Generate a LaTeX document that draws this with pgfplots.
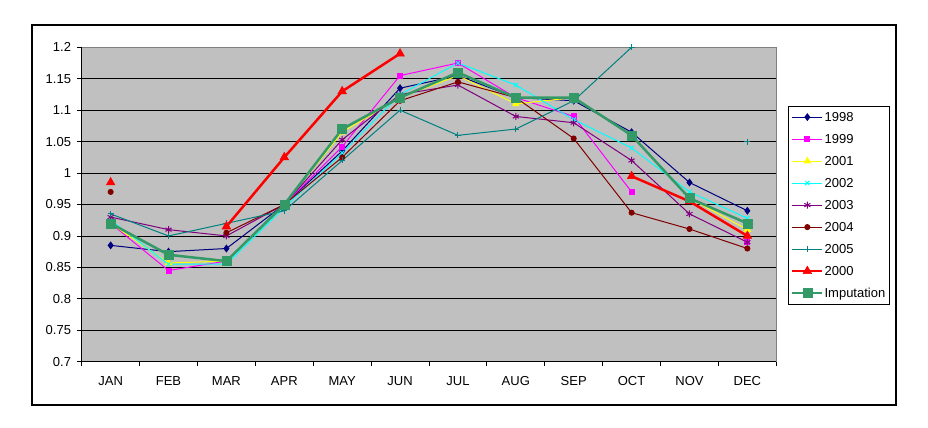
\documentclass[border=0pt]{standalone}
\usepackage{fontspec}
\setmainfont{Liberation Sans}
\usepackage{pgfplots}
\usepackage{pgfplotstable}
\pgfplotsset{compat=1.18}
\definecolor{navy}{RGB}{0,0,128}
\definecolor{magentaX}{RGB}{255,0,255}
\definecolor{yellowX}{RGB}{255,255,0}
\definecolor{cyanX}{RGB}{0,255,255}
\definecolor{purpleX}{RGB}{128,0,128}
\definecolor{darkredX}{RGB}{128,0,0}
\definecolor{tealX}{RGB}{0,128,128}
\definecolor{redX}{RGB}{255,0,0}
\definecolor{seagreen}{RGB}{51,153,102}
\definecolor{silverX}{RGB}{192,192,192}
\definecolor{borderX}{RGB}{128,128,128}

\pgfplotstableread{
x  a98   a99   a01   a02   a03   a04   a05   a00   imp
1  0.885 0.92  0.92  0.925 0.93  0.97  0.935 0.985 0.92
2  0.875 0.845 0.857 0.855 0.91  nan   0.90  nan   0.87
3  0.88  0.86  0.86  0.855 0.90  0.905 0.92  0.915 0.86
4  0.95  0.95  0.95  0.945 0.95  0.95  0.94  1.025 0.95
5  1.035 1.042 1.065 1.032 1.053 1.025 1.02  1.13  1.07
6  1.135 1.155 1.12  1.125 1.125 1.115 1.10  1.19  1.12
7  1.155 1.175 1.155 1.175 1.14  1.145 1.06  nan   1.16
8  1.12  1.12  1.11  1.14  1.09  1.12  1.07  nan   1.12
9  1.115 1.09  1.12  1.085 1.08  1.055 1.115 nan   1.12
10 1.065 0.97  1.06  1.04  1.02  0.937 1.2   0.995 1.06
11 0.985 nan   0.96  0.97  0.935 0.911 nan   0.955 0.96
12 0.94  0.89  0.91  0.928 0.89  0.88  1.05  0.90  0.92
}\chartdata

\begin{document}
\begin{tikzpicture}[font=\fontsize{13bp}{15bp}\selectfont]
\path[fill=white] (0,0) rectangle (928bp,428bp);
\draw[line width=1.2bp] (32bp,23bp) rectangle (896bp,403bp);
\begin{axis}[
  at={(81.7bp,66.3bp)}, anchor=south west, scale only axis,
  width=694.6bp, height=314.4bp,
  xmin=0.5, xmax=12.5, ymin=0.7, ymax=1.2,
  clip=false,
  unbounded coords=jump,
  xtick={1,...,12},
  xticklabels={JAN,FEB,MAR,APR,MAY,JUN,JUL,AUG,SEP,OCT,NOV,DEC},
  minor xtick={0.5,1.5,...,12.5},
  ytick={0.7,0.75,0.8,0.85,0.9,0.95,1,1.05,1.1,1.15,1.2},
  yticklabels={0.7,0.75,0.8,0.85,0.9,0.95,1,1.05,1.1,1.15,1.2},
  ymajorgrids,
  major grid style={black, line width=0.8bp},
  tick align=outside, tick pos=left,
  major tick length=4.5bp, minor tick length=4.5bp,
  tick style={black, line width=0.8bp},
  major x tick style={draw=none},
  axis background/.style={fill=silverX},
  axis line style={draw=borderX, line width=0.8bp},
  every tick label/.append style={font=\fontsize{13bp}{15bp}\selectfont},
  /pgf/number format/assume math mode=true,
  xticklabel style={inner sep=0pt, anchor=north, text height=9.4bp, text depth=0pt, yshift=-10bp},
  yticklabel style={inner sep=0pt, anchor=east, xshift=-6bp},
  legend image code/.code={\draw[mark repeat=2,mark phase=2] plot coordinates {(0bp,0bp) (15bp,0bp) (30bp,0bp)};},
  legend style={at={(1.0164,0.8143)}, anchor=north west, draw=black, line width=0.8bp,
    fill=white, inner xsep=3bp, inner ysep=0bp, row sep=0bp,
    font=\fontsize{13bp}{15bp}\selectfont,
    cells={anchor=west},
    nodes={inner xsep=1bp, inner ysep=0bp, minimum height=22bp, text height=9.4bp, text depth=0bp}},
]
\addplot[navy, line width=1bp, mark=diamond*, mark size=3.2bp, mark options={solid,fill=navy}] table[x=x,y=a98] {\chartdata};
\addlegendentry{1998}
\addplot[magentaX, line width=1bp, mark=square*, mark size=2.5bp, mark options={solid,fill=magentaX}] table[x=x,y=a99] {\chartdata};
\addlegendentry{1999}
\addplot[yellowX, line width=1bp, mark=triangle*, mark size=3.5bp, mark options={solid,fill=yellowX}] table[x=x,y=a01] {\chartdata};
\addlegendentry{2001}
\addplot[cyanX, line width=1bp, mark=x, mark size=3bp, mark options={solid,line width=1bp}] table[x=x,y=a02] {\chartdata};
\addlegendentry{2002}
\addplot[purpleX, line width=1bp, mark=asterisk, mark size=3.5bp, mark options={solid,line width=1bp}] table[x=x,y=a03] {\chartdata};
\addlegendentry{2003}
\addplot[darkredX, line width=1bp, mark=*, mark size=2.5bp, mark options={solid,fill=darkredX}] table[x=x,y=a04] {\chartdata};
\addlegendentry{2004}
\addplot[tealX, line width=1bp, mark=+, mark size=3bp, mark options={solid,line width=1bp}] table[x=x,y=a05] {\chartdata};
\addlegendentry{2005}
\addplot[redX, line width=2.5bp, mark=triangle*, mark size=5bp, mark options={solid,fill=redX,line width=0.5bp}] table[x=x,y=a00] {\chartdata};
\addlegendentry{2000}
\addplot[seagreen, line width=2.5bp, mark=square*, mark size=4.5bp, mark options={solid,fill=seagreen,line width=0.5bp}] table[x=x,y=imp] {\chartdata};
\addlegendentry{Imputation}
\draw[black, line width=0.8bp] (rel axis cs:0,1) -- (rel axis cs:0,0) -- (rel axis cs:1,0);
\end{axis}
\end{tikzpicture}
\end{document}
